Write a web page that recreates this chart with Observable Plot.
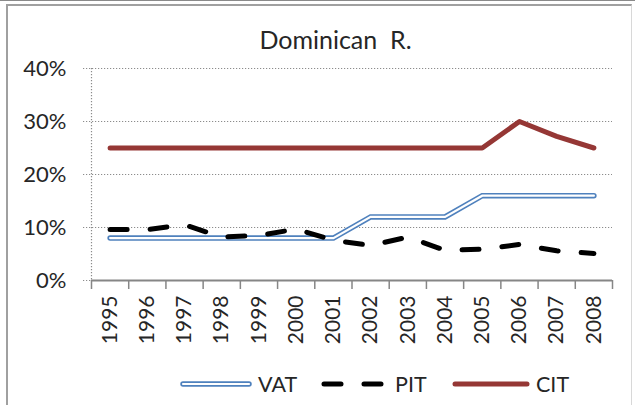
<!DOCTYPE html>
<html>
<head>
<meta charset="utf-8">
<script src="https://cdn.jsdelivr.net/npm/d3@7"></script>
<script src="https://cdn.jsdelivr.net/npm/@observablehq/plot@0.6"></script>
<style>
  html, body { margin: 0; padding: 0; background: #fff; }
  body { width: 635px; height: 405px; overflow: hidden; position: relative; font-family: Lato, "Open Sans", sans-serif; color: #262626; }
  #topline { position: absolute; left: 0; top: 0; width: 635px; height: 1px; background: #8a8a8a; }
  #frame { position: absolute; left: 6px; top: 4px; width: 626px; height: 410px; border-top: 2px solid #a0a0a0; border-left: 2px solid #a0a0a0; border-right: 1px solid #d8d8d8; box-sizing: border-box; }
  #chart { position: absolute; left: 0; top: 0; }
  #title { position: absolute; left: 0; width: 671px; top: 24px; text-align: center; font-size: 25px; color: #262626; }
  #legend { position: absolute; top: 370px; left: 0; width: 635px; height: 28px; }
  .item { position: absolute; top: 0; height: 28px; display: flex; align-items: center; font-size: 21.5px; color: #262626; }
  .item svg { margin-right: 6px; }
</style>
</head>
<body>
<div id="topline"></div>
<div id="frame"></div>
<div id="chart"></div>
<div id="title">Dominican&nbsp; R.</div>
<div id="legend"></div>
<script>
const years = [1995, 1996, 1997, 1998, 1999, 2000, 2001, 2002, 2003, 2004, 2005, 2006, 2007, 2008];
const vat = [0.08, 0.08, 0.08, 0.08, 0.08, 0.08, 0.08, 0.12, 0.12, 0.12, 0.16, 0.16, 0.16, 0.16];
const pit = [0.096, 0.096, 0.105, 0.082, 0.085, 0.097, 0.076, 0.066, 0.082, 0.057, 0.059, 0.068, 0.056, 0.051];
const cit = [0.25, 0.25, 0.25, 0.25, 0.25, 0.25, 0.25, 0.25, 0.25, 0.25, 0.25, 0.30, 0.272, 0.25];
const yTicks = [0, 0.1, 0.2, 0.3, 0.4];
const seriesNames = ["VAT", "PIT", "CIT"];

const rows = (vals) => years.map((yr, i) => ({year: yr, value: vals[i]}));
const boundaries = years.map(y => y - 0.5).concat([years[years.length - 1] + 0.5]);

const grid = "#8c8c8c";
const citColor = "#953735";
const vatColor = "#4f81bd";

const chart = Plot.plot({
  width: 635,
  height: 350,
  marginLeft: 91,
  marginRight: 23,
  marginTop: 68,
  marginBottom: 70,
  style: {fontFamily: "Lato, 'Open Sans', sans-serif", background: "transparent", color: "#262626"},
  x: {type: "linear", domain: [boundaries[0], boundaries[boundaries.length - 1]], axis: null},
  y: {domain: [0, 0.4], axis: null},
  marks: [
    Plot.ruleY(yTicks.filter(d => d > 0), {stroke: grid, strokeWidth: 1.2, strokeDasharray: "1.2,1.8", insetLeft: -8}),
    Plot.ruleY([0], {x1: boundaries[0], x2: boundaries[0], stroke: grid, strokeWidth: 1.2, strokeDasharray: "1.2,1.8", insetLeft: -8}),
    Plot.ruleX([boundaries[0]], {stroke: grid, strokeWidth: 1.2, strokeDasharray: "1.2,1.8"}),
    Plot.ruleY([0], {stroke: "#868686", strokeWidth: 2}),
    Plot.ruleX(boundaries, {y1: 0, y2: 0, insetBottom: -9, stroke: "#868686", strokeWidth: 1.5}),
    Plot.text(yTicks, {y: d => d, frameAnchor: "left", dx: -25, textAnchor: "end", text: d3.format(".0%"), fontSize: 22, fill: "#262626"}),
    Plot.text(years, {x: d => d, y: 0, dy: 15, rotate: -90, textAnchor: "end", lineAnchor: "middle", text: d => String(d), fontSize: 21, fill: "#262626"}),
    Plot.line(rows(vat), {x: "year", y: "value", stroke: vatColor, strokeWidth: 5.5, strokeLinejoin: "miter", strokeMiterlimit: 4}),
    Plot.line(rows(vat), {x: "year", y: "value", stroke: "white", strokeWidth: 2.2, strokeLinejoin: "miter", strokeMiterlimit: 4}),
    Plot.line(rows(pit), {x: "year", y: "value", stroke: "black", strokeWidth: 5, strokeDasharray: "17,23", strokeLinecap: "round"}),
    Plot.line(rows(cit), {x: "year", y: "value", stroke: citColor, strokeWidth: 5})
  ]
});
document.getElementById("chart").appendChild(chart);

// legend
const legend = document.getElementById("legend");
const items = [
  {name: seriesNames[0], left: 180, w: 72, draw: w => `<line x1="3" y1="14" x2="${w-3}" y2="14" stroke="${vatColor}" stroke-width="5.5" stroke-linecap="round"/><line x1="3" y1="14" x2="${w-3}" y2="14" stroke="white" stroke-width="2.2" stroke-linecap="round"/>`},
  {name: seriesNames[1], left: 319, w: 70, draw: w => `<line x1="5" y1="14" x2="${w-3}" y2="14" stroke="black" stroke-width="5" stroke-dasharray="17,23" stroke-linecap="round"/>`},
  {name: seriesNames[2], left: 452, w: 78, draw: w => `<line x1="3" y1="14" x2="${w-3}" y2="14" stroke="${citColor}" stroke-width="5" stroke-linecap="round"/>`}
];
for (const it of items) {
  const div = document.createElement("div");
  div.className = "item";
  div.style.left = it.left + "px";
  div.innerHTML = `<svg width="${it.w}" height="28">${it.draw(it.w)}</svg><span>${it.name}</span>`;
  legend.appendChild(div);
}
</script>
</body>
</html>
